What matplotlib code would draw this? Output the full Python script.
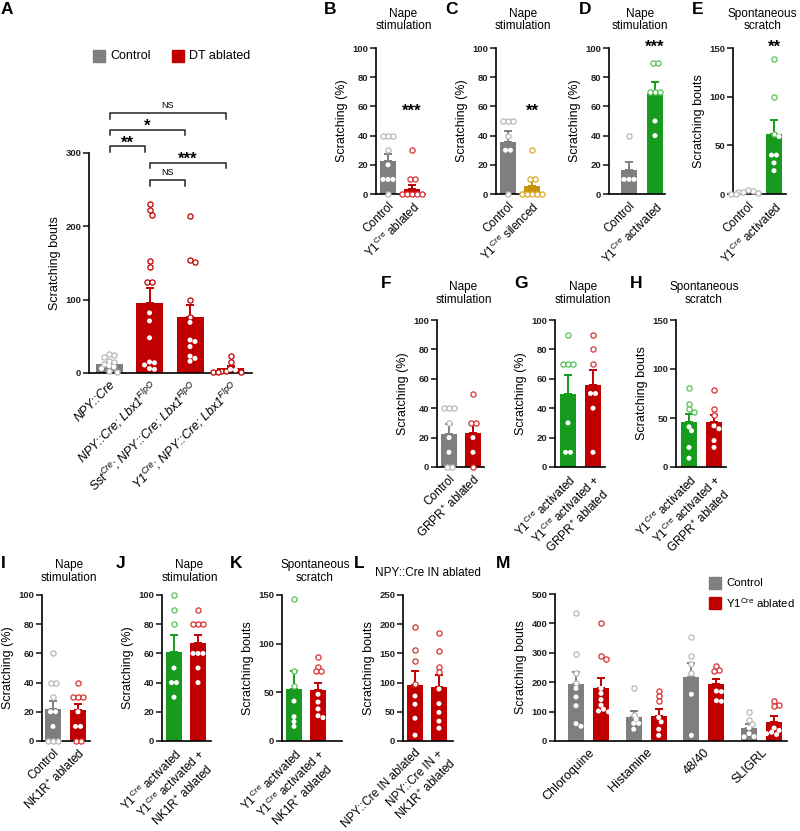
import numpy as np
import matplotlib.pyplot as plt
from matplotlib.patches import Rectangle

plt.rcParams['font.family'] = ['Liberation Sans', 'DejaVu Sans']
plt.rcParams['mathtext.fontset'] = 'custom'
plt.rcParams['mathtext.rm'] = 'Liberation Sans'
plt.rcParams['mathtext.it'] = 'Liberation Sans:italic'
plt.rcParams['mathtext.bf'] = 'Liberation Sans:bold'

W, H = 800, 831

GREY, GREY_PT = '#7f7f7f', '#b8b8b8'
RED, RED_PT = '#c00000', '#d83030'
GREEN, GREEN_PT = '#169b1e', '#55c255'
GOLD, GOLD_PT = '#c8930c', '#dcaa2c'

CRE = r'$^{\mathregular{Cre}}$'
FLPO = r'$^{\mathregular{FlpO}}$'
PLUS = r'$^{\mathregular{+}}$'

# ---- data ----
a_labels = ['NPY::Cre', 'NPY::Cre; Lbx1' + FLPO,
            'Sst' + CRE + '; NPY::Cre; Lbx1' + FLPO,
            'Y1' + CRE + '; NPY::Cre; Lbx1' + FLPO]
a_means = [12, 96, 76, 7]
a_sems = [2, 20, 17, 2]
a_points = [[26, 24, 22, 17, 15, 12, 10, 8, 6, 3, 2],
            [231, 222, 216, 153, 144, 124, 124, 82, 71, 48, 15, 14, 11, 6, 5],
            [214, 154, 151, 100, 77, 69, 45, 43, 36, 23, 20, 16],
            [23, 15, 5, 4, 3, 3, 2, 1, 1]]
a_brackets = [(0, 3, 355, 'NS'), (0, 2, 332, '*'), (0, 1, 309, '**'),
              (1, 3, 287, '***'), (1, 2, 263, 'NS')]

b_labels = ['Control', 'Y1' + CRE + ' ablated']
b_means = [22.4, 3.4]
b_sems = [5.2, 3.0]
b_points = [[40, 40, 40, 30, 20, 10, 10, 10, 0], [30, 10, 10, 0, 0, 0, 0, 0]]

c_labels = ['Control', 'Y1' + CRE + ' silenced']
c_means = [35.6, 5.7]
c_sems = [7.4, 4.1]
c_points = [[50, 50, 50, 40, 30, 30, 0], [30, 10, 10, 0, 0, 0, 0, 0]]

d_labels = ['Control', 'Y1' + CRE + ' activated']
d_means = [16.7, 68.5]
d_sems = [5.3, 8.5]
d_points = [[40, 10, 10, 10, 10, 10], [90, 90, 70, 70, 70, 50, 40]]

e_labels = ['Control', 'Y1' + CRE + ' activated']
e_means = [1.7, 61.6]
e_sems = [0.8, 14.8]
e_points = [[4, 3, 2, 2, 1, 0, 0], [139, 100, 62, 59, 40, 40, 32, 24]]

f_labels = ['Control', 'GRPR' + PLUS + ' ablated']
f_means = [22.5, 23.4]
f_sems = [7.0, 6.6]
f_points = [[40, 40, 40, 30, 20, 10, 0, 0], [50, 30, 30, 20, 10, 0]]

g_labels = ['Y1' + CRE + ' activated', 'Y1' + CRE + ' activated +\nGRPR' + PLUS + ' ablated']
g_means = [50, 55.5]
g_sems = [12.5, 10.5]
g_points = [[90, 70, 70, 70, 30, 10, 10], [90, 80, 70, 50, 50, 40, 10]]

h_labels = g_labels
h_means = [46, 46.4]
h_sems = [8.5, 7.1]
h_points = [[81, 64, 59, 56, 41, 37, 20, 9], [79, 59, 53, 42, 39, 27, 20]]

i_labels = ['Control', 'NK1R' + PLUS + ' ablated']
i_means = [21.7, 21]
i_sems = [5.8, 4.6]
i_points = [[60, 40, 40, 30, 20, 20, 10, 0, 0, 0], [40, 30, 30, 30, 20, 10, 10, 0, 0]]

j_labels = ['Y1' + CRE + ' activated', 'Y1' + CRE + ' activated +\nNK1R' + PLUS + ' ablated']
j_means = [61.3, 66.8]
j_sems = [11.5, 6.0]
j_points = [[100, 90, 80, 50, 40, 40, 30], [90, 80, 80, 80, 60, 60, 60, 50, 40]]

k_labels = j_labels
k_means = [53.2, 52.2]
k_sems = [18.8, 7.8]
k_points = [[146, 72, 57, 41, 25, 20, 15], [86, 76, 72, 72, 48, 40, 33, 26, 24]]

l_labels = ['NPY::Cre IN ablated', 'NPY::Cre IN +\nNK1R' + PLUS + ' ablated']
l_means = [96.7, 92.7]
l_sems = [22.9, 20.0]
l_points = [[196, 156, 137, 98, 77, 63, 39, 10], [185, 154, 127, 118, 89, 64, 49, 34, 22]]

m_groups = ['Chloroquine', 'Histamine', '48/40', 'SLIGRL']
m_ctrl_means = [192.5, 80, 219, 45.5]
m_ctrl_sems = [41, 22, 47, 13.5]
m_abl_means = [181, 85, 192.5, 65]
m_abl_sems = [32, 25, 19.5, 20]
m_ctrl_points = [[437, 295, 230, 196, 179, 150, 120, 59, 50],
                 [179, 88, 75, 60, 60, 40],
                 [354, 290, 261, 230, 159, 19],
                 [97, 73, 59, 45, 25, 15, 14]]
m_abl_points = [[401, 289, 279, 179, 162, 141, 122, 108, 102, 99],
                [170, 154, 136, 80, 65, 40, 19],
                [255, 240, 238, 170, 168, 137, 135],
                [136, 124, 120, 44, 36, 30, 25, 22]]

fig = plt.figure(figsize=(W / 100, H / 100), dpi=100)


def swarm(vals, sx, sy, d=5.0):
    # simple greedy beeswarm in pixel space, returns x offsets in data units
    vals = np.asarray(vals, float)
    offs = np.zeros(len(vals))
    placed = []
    for v in sorted(set(vals), reverse=True):
        idx = np.flatnonzero(vals == v)
        row = (np.arange(len(idx)) - (len(idx) - 1) / 2) * d
        for shift in (0, 0.5, -0.5, 1, -1, 1.5, -1.5, 2, -2, 2.5, -2.5, 3, -3):
            cand = row + shift * d
            if all((cx - px) ** 2 + ((v - pv) * sy) ** 2 >= (0.9 * d) ** 2
                   for cx in cand for px, pv in placed):
                break
        for i, cx in zip(idx, cand):
            offs[i] = cx / sx
            placed.append((cx, v))
    return offs


def bar_panel(box, ymax, ystep, means, sems, points, colors, ptcolors, xs, bw, xlim, ylabel):
    x0, x1, yt, yb = box
    ax = fig.add_axes([x0 / W, 1 - yb / H, (x1 - x0) / W, (yb - yt) / H])
    ax.set_xlim(xlim)
    ax.set_ylim(0, ymax)
    sx = (x1 - x0) / (xlim[1] - xlim[0])
    sy = (yb - yt) / ymax
    for x, m, s, pts, c, pc in zip(xs, means, sems, points, colors, ptcolors):
        ax.bar(x, m, bw, color=c, zorder=2)
        ax.errorbar(x, m, yerr=[[0], [s]], fmt='none', ecolor=c, elinewidth=1.4,
                    capsize=3.2, capthick=1.4, zorder=3)
        v = np.asarray(pts, float)
        offs = swarm(v, sx, sy)
        inside = (v < m) & (v * sy > 2.8)
        ax.scatter(x + offs[~inside], v[~inside], s=14, facecolor='white', edgecolor=pc,
                   linewidth=0.9, zorder=5, clip_on=False)
        ax.scatter(x + offs[inside], v[inside], s=13, facecolor='white', edgecolor='none',
                   zorder=5, clip_on=False)
    ax.spines[['top', 'right']].set_visible(False)
    ax.spines[['left', 'bottom']].set_linewidth(1.2)
    ax.set_yticks(np.arange(0, ymax + 1, ystep))
    ax.tick_params(axis='y', length=4, width=1.2, labelsize=6.8, pad=1.5, colors='#222222')
    ax.tick_params(axis='x', length=0, pad=4)
    for t in ax.get_yticklabels():
        t.set_fontweight('bold')
    ax.set_ylabel(ylabel, fontsize=9, labelpad=3)
    return ax


def small_panel(box, first, gap, ymax, ystep, means, sems, points, colors, ptcolors, labels, ylabel):
    x0, x1 = box[0], box[1]
    xlim = (-first / gap, (x1 - x0 - first) / gap)
    xs = np.arange(len(means))
    ax = bar_panel(box, ymax, ystep, means, sems, points, colors, ptcolors, xs, 16 / gap, xlim, ylabel)
    ax.set_xticks(xs)
    ax.set_xticklabels(labels, rotation=45, ha='right', rotation_mode='anchor',
                       fontsize=8.5, multialignment='center')
    return ax


def stars(ax, x, y, text):
    ax.annotate(text, (x, y), xytext=(0, -7), textcoords='offset points', ha='center',
                va='baseline', fontsize=12, fontweight='bold', annotation_clip=False)


def title(ax_box, yc, text, dx=3):
    xc = (ax_box[0] + ax_box[1]) / 2 + dx
    fig.text(xc / W, 1 - yc / H, text, ha='center', va='center', fontsize=8.5, linespacing=1.1)


def plabel(x, y, s):
    fig.text(x / W, 1 - y / H, s, ha='center', va='center', fontsize=12.5, fontweight='bold')


def legend_item(x, y, color, text, size=12, fs=9):
    fig.patches.append(Rectangle((x / W, 1 - (y + size / 2) / H), size / W, size / H,
                                 color=color, transform=fig.transFigure, figure=fig))
    fig.text((x + size + 5) / W, 1 - y / H, text, ha='left', va='center', fontsize=fs)


# ---- A ----
boxA = (89, 252, 153, 373)
axA = bar_panel(boxA, 300, 100, a_means, a_sems, a_points, [GREY, RED, RED, RED],
                [GREY_PT, RED, RED, RED], np.arange(4), 27 / 40.5, (-20 / 40.5, 143 / 40.5),
                'Scratching bouts')
axA.set_xticks(np.arange(4))
axA.set_xticklabels(a_labels, rotation=45, ha='right', rotation_mode='anchor',
                    fontsize=9, fontstyle='italic')
for i, j, y, txt in a_brackets:
    xa, xb = i + 0.02, j - 0.12
    axA.plot([xa, xa, xb, xb], [y - 8, y, y, y - 8], color='#222222', lw=1.1,
             clip_on=False, zorder=4)
    if txt == 'NS':
        axA.text((xa + xb) / 2, y + 4, txt, ha='center', va='bottom', fontsize=6.5)
    else:
        stars(axA, (xa + xb) / 2, y + 12, txt)
legend_item(93, 56, GREY, 'Control')
legend_item(172, 56, RED, 'DT ablated')
plabel(7, 9, 'A')

# ---- top row B-E ----
row1 = (48, 194)
boxB = (376, 425) + row1
axB = small_panel(boxB, 12, 24, 100, 20, b_means, b_sems, b_points, [GREY, RED],
                  [GREY_PT, RED_PT], b_labels, 'Scratching (%)')
stars(axB, 1, 60.5, '***')
boxC = (496, 544) + row1
axC = small_panel(boxC, 12, 24, 100, 20, c_means, c_sems, c_points, [GREY, GOLD],
                  [GREY_PT, GOLD_PT], c_labels, 'Scratching (%)')
stars(axC, 1, 60.5, '**')
boxD = (609, 665) + row1
axD = small_panel(boxD, 20, 26, 100, 20, d_means, d_sems, d_points, [GREY, GREEN],
                  [GREY_PT, GREEN_PT], d_labels, 'Scratching (%)')
stars(axD, 1, 104, '***')
boxE = (733, 786) + row1
axE = small_panel(boxE, 15, 26, 150, 50, e_means, e_sems, e_points, [GREY, GREEN],
                  [GREY_PT, GREEN_PT], e_labels, 'Scratching bouts')
stars(axE, 1, 156, '**')
for bx in (boxB, boxC, boxD):
    title(bx, 20, 'Nape\nstimulation')
title(boxE, 20, 'Spontaneous\nscratch')
plabel(330, 9, 'B')
plabel(452, 9, 'C')
plabel(585, 9, 'D')
plabel(698, 9, 'E')

# ---- middle row F-H ----
row2 = (320, 467)
boxF = (437, 484) + row2
small_panel(boxF, 12, 24, 100, 20, f_means, f_sems, f_points, [GREY, RED],
            [GREY_PT, RED_PT], f_labels, 'Scratching (%)')
boxG = (555, 605) + row2
small_panel(boxG, 13, 25, 100, 20, g_means, g_sems, g_points, [GREEN, RED],
            [GREEN_PT, RED_PT], g_labels, 'Scratching (%)')
boxH = (676, 726) + row2
small_panel(boxH, 13, 25, 150, 50, h_means, h_sems, h_points, [GREEN, RED],
            [GREEN_PT, RED_PT], h_labels, 'Scratching bouts')
title(boxF, 293.5, 'Nape\nstimulation')
title(boxG, 293.5, 'Nape\nstimulation')
title(boxH, 293.5, 'Spontaneous\nscratch')
plabel(386, 283, 'F')
plabel(521, 283, 'G')
plabel(636, 283, 'H')

# ---- bottom row I-M ----
row3 = (595, 741)
boxI = (42, 90) + row3
small_panel(boxI, 11, 25, 100, 20, i_means, i_sems, i_points, [GREY, RED],
            [GREY_PT, RED_PT], i_labels, 'Scratching (%)')
boxJ = (162, 211) + row3
small_panel(boxJ, 12, 24, 100, 20, j_means, j_sems, j_points, [GREEN, RED],
            [GREEN_PT, RED_PT], j_labels, 'Scratching (%)')
boxK = (282, 342) + row3
small_panel(boxK, 12, 24, 150, 50, k_means, k_sems, k_points, [GREEN, RED],
            [GREEN_PT, RED_PT], k_labels, 'Scratching bouts')
boxL = (403, 453) + row3
small_panel(boxL, 12, 24, 250, 50, l_means, l_sems, l_points, [RED, RED],
            [RED_PT, RED_PT], l_labels, 'Scratching bouts')
title(boxI, 571.5, 'Nape\nstimulation')
title(boxJ, 571.5, 'Nape\nstimulation')
title(boxK, 571.5, 'Spontaneous\nscratch')
title(boxL, 573, 'NPY::Cre IN ablated', dx=0)
plabel(3, 563, 'I')
plabel(121, 563, 'J')
plabel(236, 563, 'K')
plabel(359, 564, 'L')
plabel(503, 564, 'M')

boxM = (555, 787, 594, 741)
gap = 57.7
off = 12.5 / gap
g = np.arange(len(m_groups))
xs_m, means_m, sems_m, pts_m, cols_m, pcols_m = [], [], [], [], [], []
for k in range(len(m_groups)):
    xs_m += [g[k] - off, g[k] + off]
    means_m += [m_ctrl_means[k], m_abl_means[k]]
    sems_m += [m_ctrl_sems[k], m_abl_sems[k]]
    pts_m += [m_ctrl_points[k], m_abl_points[k]]
    cols_m += [GREY, RED]
    pcols_m += [GREY_PT, RED_PT]
axM = bar_panel(boxM, 500, 100, means_m, sems_m, pts_m, cols_m, pcols_m, xs_m, 16 / gap,
                (-33.5 / gap, (232 - 33.5) / gap), 'Scratching bouts')
axM.set_xticks(g)
axM.set_xticklabels(m_groups, rotation=45, ha='right', rotation_mode='anchor', fontsize=9)
legend_item(709, 583, GREY, 'Control', fs=8.2)
legend_item(709, 603, RED, 'Y1' + CRE + ' ablated', fs=8.2)

fig.savefig('out.png', dpi=100)
